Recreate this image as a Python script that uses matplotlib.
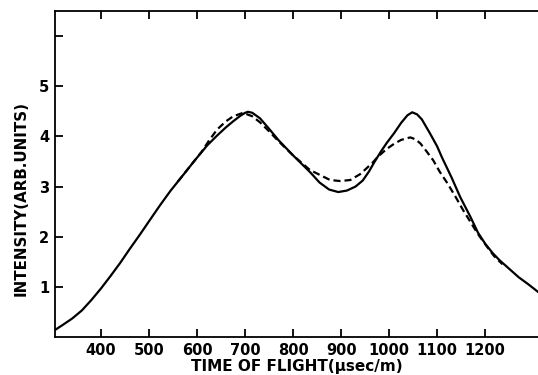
import matplotlib.pyplot as plt

# solid curve
tof_solid = [304, 320, 340, 360, 380, 400, 420, 440, 460, 480, 500, 523, 545, 571,
             595, 621, 642, 660, 675, 690, 700, 706, 715, 731, 750, 770, 785, 800,
             818, 835, 855, 875, 894, 912, 930, 945, 958, 970, 983, 995, 1010,
             1025, 1038, 1048, 1058, 1068, 1085, 1100, 1110, 1130, 1148, 1169,
             1185, 1200, 1215, 1230, 1250, 1270, 1290, 1310]
int_solid = [0.14, 0.24, 0.37, 0.53, 0.74, 0.97, 1.22, 1.48, 1.76, 2.03, 2.31, 2.63,
             2.92, 3.23, 3.52, 3.82, 4.02, 4.18, 4.30, 4.41, 4.47, 4.49, 4.47, 4.36,
             4.15, 3.92, 3.77, 3.62, 3.45, 3.29, 3.08, 2.94, 2.89, 2.92, 3.00, 3.12,
             3.30, 3.50, 3.70, 3.87, 4.06, 4.27, 4.42, 4.48, 4.44, 4.34, 4.06, 3.80,
             3.58, 3.18, 2.79, 2.40, 2.08, 1.86, 1.68, 1.53, 1.36, 1.19, 1.05, 0.90]

# dashed curve
tof_dash = [560, 585, 610, 625, 642, 660, 675, 696, 715, 731, 750, 770, 800, 835,
            877, 898, 919, 940, 965, 977, 995, 1010, 1025, 1044, 1055, 1065, 1078,
            1092, 1105, 1121, 1138, 1154, 1169, 1183, 1200, 1218, 1236]
int_dash = [3.10, 3.40, 3.70, 3.92, 4.14, 4.30, 4.40, 4.47, 4.40, 4.28, 4.10, 3.90,
            3.62, 3.33, 3.13, 3.11, 3.13, 3.25, 3.47, 3.60, 3.75, 3.85, 3.93, 3.98,
            3.94, 3.86, 3.70, 3.52, 3.30, 3.07, 2.80, 2.53, 2.30, 2.08, 1.85, 1.62,
            1.45]

xticks = [400, 500, 600, 700, 800, 900, 1000, 1100, 1200]
yticks = [1, 2, 3, 4, 5, 6]
ylabels = ['1', '2', '3', '4', '5', '']

fig = plt.figure(figsize=(5.38, 3.75), dpi=100)
ax = fig.add_axes([0.1022, 0.1013, 0.8978, 0.8694])

ax.plot(tof_solid, int_solid, color='black', lw=1.6, solid_joinstyle='round')
ax.plot(tof_dash, int_dash, color='black', lw=1.6, linestyle=(0, (3.2, 1.8)))

ax.set_xlim(304, 1310)
ax.set_ylim(0, 6.5)
ax.set_xticks(xticks)
ax.set_yticks(yticks)
ax.set_yticklabels(ylabels)

ax.spines['right'].set_visible(False)
for s in ['left', 'bottom', 'top']:
    ax.spines[s].set_linewidth(1.3)

ax.tick_params(axis='both', direction='in', length=6, width=1.3,
               labelsize=10.5, pad=4)
ax.tick_params(axis='x', top=True)
for lab in ax.get_xticklabels() + ax.get_yticklabels():
    lab.set_fontweight('bold')

ax.set_xlabel('TIME OF FLIGHT(\u03bcsec/m)', fontsize=11, fontweight='bold', labelpad=1)
ax.set_ylabel('INTENSITY(ARB.UNITS)', fontsize=10.8, fontweight='bold')
ax.yaxis.set_label_coords(-0.054, 0.426)

fig.savefig('out.png', dpi=100)
